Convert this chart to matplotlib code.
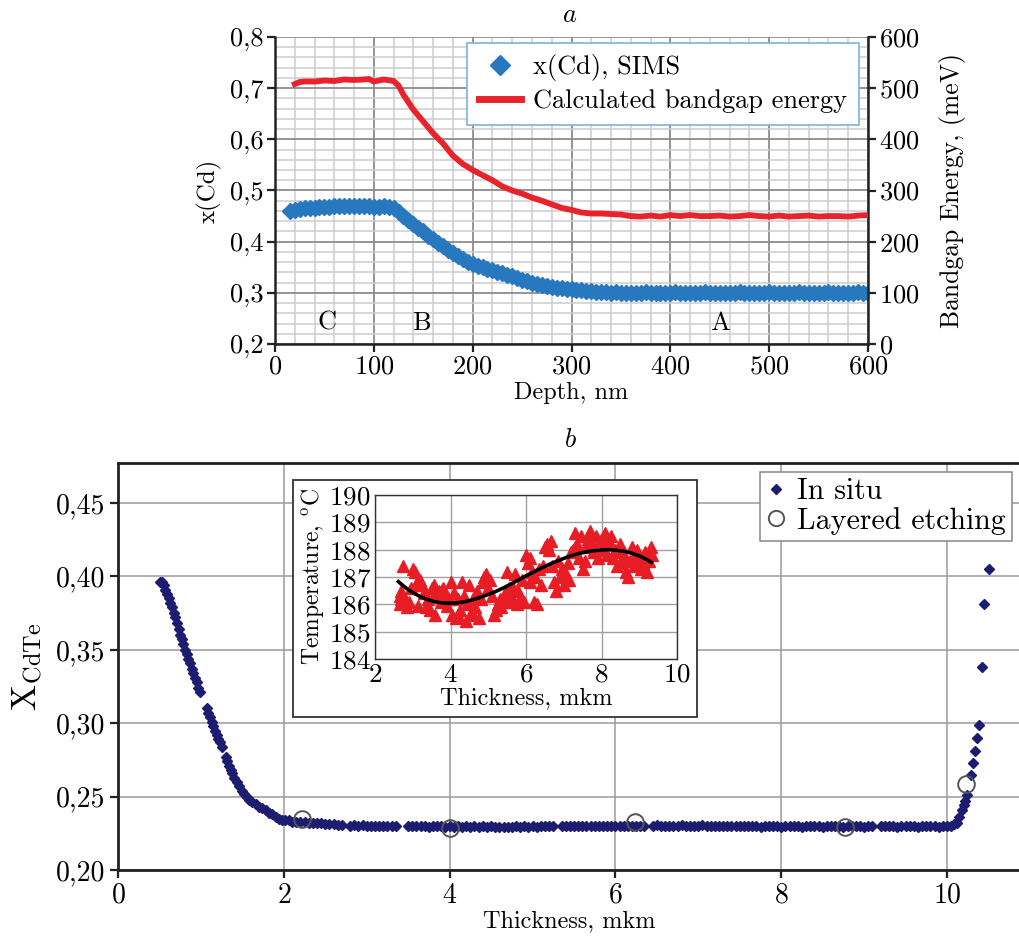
import matplotlib
matplotlib.use('Agg')
import matplotlib.pyplot as plt
from matplotlib.ticker import FuncFormatter, MultipleLocator
from matplotlib.lines import Line2D
from matplotlib.patches import Rectangle

plt.rcParams['font.family'] = 'serif'
plt.rcParams['font.serif'] = ['cmr10', 'DejaVu Serif']
plt.rcParams['mathtext.fontset'] = 'cm'
plt.rcParams['axes.unicode_minus'] = False
plt.rcParams['axes.formatter.use_mathtext'] = True

# ---------------- data: panel a ----------------
sims_xcd = [
    (15, 0.460), (20, 0.462), (25, 0.464), (30, 0.465), (35, 0.466), (40, 0.466), (45, 0.467),
    (50, 0.468), (55, 0.468), (60, 0.469), (65, 0.469), (70, 0.470), (75, 0.470), (80, 0.470),
    (85, 0.470), (90, 0.470), (95, 0.469), (100, 0.468), (105, 0.468), (110, 0.469), (115, 0.467),
    (120, 0.465), (125, 0.458), (130, 0.450), (135, 0.442), (140, 0.434), (145, 0.427), (150, 0.420),
    (155, 0.412), (160, 0.405), (165, 0.398), (170, 0.391), (175, 0.384), (180, 0.378), (185, 0.372),
    (190, 0.366), (195, 0.361), (200, 0.357), (205, 0.353), (210, 0.350), (215, 0.347), (220, 0.344),
    (225, 0.341), (230, 0.338), (235, 0.335), (240, 0.332), (245, 0.329), (250, 0.326), (255, 0.323),
    (260, 0.320), (265, 0.318), (270, 0.316), (275, 0.314), (280, 0.312), (285, 0.310), (290, 0.309),
    (295, 0.308), (300, 0.307), (305, 0.306), (310, 0.305), (315, 0.304), (320, 0.303), (325, 0.302),
    (330, 0.302), (335, 0.301), (340, 0.300), (345, 0.301), (350, 0.300), (355, 0.300), (360, 0.299),
    (365, 0.300), (370, 0.300), (375, 0.301), (380, 0.300), (385, 0.300), (390, 0.299), (395, 0.300),
    (400, 0.300), (405, 0.301), (410, 0.300), (415, 0.300), (420, 0.299), (425, 0.300), (430, 0.300),
    (435, 0.301), (440, 0.300), (445, 0.300), (450, 0.300), (455, 0.299), (460, 0.300), (465, 0.300),
    (470, 0.301), (475, 0.300), (480, 0.300), (485, 0.299), (490, 0.300), (495, 0.300), (500, 0.301),
    (505, 0.300), (510, 0.300), (515, 0.299), (520, 0.300), (525, 0.300), (530, 0.301), (535, 0.300),
    (540, 0.300), (545, 0.299), (550, 0.300), (555, 0.300), (560, 0.301), (565, 0.300), (570, 0.300),
    (575, 0.299), (580, 0.300), (585, 0.300), (590, 0.301), (595, 0.300), (600, 0.300),
]
bandgap_mev = [
    (20, 508), (25, 512), (30, 513), (40, 513), (50, 515), (60, 514), (70, 517), (80, 516),
    (90, 517), (95, 518), (100, 513), (110, 517), (120, 514), (125, 505), (130, 487), (140, 458),
    (150, 435), (160, 412), (170, 392), (180, 368), (190, 352), (200, 340), (210, 330), (220, 320),
    (230, 308), (240, 300), (250, 294), (260, 286), (270, 280), (280, 273), (290, 266), (300, 262),
    (310, 257), (320, 255), (330, 255), (340, 254), (350, 253), (360, 250), (370, 249), (380, 251),
    (390, 249), (400, 252), (410, 250), (420, 252), (430, 250), (440, 250), (450, 251), (460, 249),
    (470, 250), (480, 252), (490, 250), (500, 249), (510, 251), (520, 249), (530, 250), (540, 251),
    (550, 249), (560, 250), (570, 250), (580, 249), (590, 251), (600, 252),
]
zone_labels = ['C', 'B', 'A']
zone_depth = [53, 148, 450]

# ---------------- data: panel b ----------------
in_situ = [
    (0.51, 0.396), (0.53, 0.396), (0.55, 0.394), (0.57, 0.391), (0.59, 0.388), (0.61, 0.385),
    (0.63, 0.382), (0.65, 0.379), (0.67, 0.375), (0.69, 0.372), (0.71, 0.368), (0.73, 0.364),
    (0.75, 0.360), (0.77, 0.357), (0.79, 0.354), (0.81, 0.350), (0.83, 0.347), (0.85, 0.344),
    (0.87, 0.341), (0.89, 0.337), (0.91, 0.334), (0.93, 0.331), (0.95, 0.328), (0.97, 0.324),
    (0.99, 0.321), (1.07, 0.310), (1.09, 0.307), (1.11, 0.304), (1.13, 0.301), (1.15, 0.298),
    (1.17, 0.295), (1.19, 0.292), (1.21, 0.289), (1.23, 0.287), (1.25, 0.284), (1.30, 0.277),
    (1.32, 0.274), (1.34, 0.271), (1.36, 0.268), (1.38, 0.266), (1.40, 0.263), (1.43, 0.260),
    (1.46, 0.257), (1.49, 0.254), (1.52, 0.252), (1.55, 0.250), (1.58, 0.248), (1.62, 0.246),
    (1.66, 0.245), (1.70, 0.243), (1.74, 0.242), (1.78, 0.241), (1.82, 0.239), (1.86, 0.238),
    (1.90, 0.236), (1.94, 0.235), (1.98, 0.234), (2.02, 0.234), (2.06, 0.234), (2.10, 0.233),
    (2.15, 0.233), (2.20, 0.233), (2.25, 0.233), (2.30, 0.232), (2.35, 0.232), (2.40, 0.232),
    (2.45, 0.2318), (2.50, 0.2314), (2.55, 0.2312), (2.60, 0.2310), (2.65, 0.2308), (2.70, 0.2306),
    (2.80, 0.2303), (2.85, 0.2305), (2.90, 0.2301), (2.95, 0.2304), (3.00, 0.2300), (3.05, 0.2302),
    (3.10, 0.2299), (3.15, 0.2303), (3.20, 0.2300), (3.25, 0.2298), (3.30, 0.2301), (3.35, 0.2299),
    (3.50, 0.2300), (3.55, 0.2297), (3.60, 0.2301), (3.65, 0.2298), (3.70, 0.2300), (3.75, 0.2296),
    (3.80, 0.2299), (3.85, 0.2297), (3.90, 0.2300), (3.95, 0.2296), (4.00, 0.2298), (4.05, 0.2295),
    (4.10, 0.2298), (4.15, 0.2296), (4.20, 0.2299), (4.25, 0.2295), (4.30, 0.2297), (4.35, 0.2294),
    (4.40, 0.2297), (4.45, 0.2295), (4.50, 0.2298), (4.55, 0.2294), (4.60, 0.2296), (4.65, 0.2293),
    (4.70, 0.2296), (4.75, 0.2294), (4.80, 0.2297), (4.85, 0.2295), (4.90, 0.2298), (4.95, 0.2296),
    (5.00, 0.2299), (5.05, 0.2296), (5.10, 0.2298), (5.15, 0.2300), (5.20, 0.2297), (5.25, 0.2299),
    (5.35, 0.2297), (5.40, 0.2300), (5.45, 0.2298), (5.50, 0.2301), (5.55, 0.2298), (5.60, 0.2300),
    (5.65, 0.2297), (5.70, 0.2300), (5.75, 0.2298), (5.80, 0.2301), (5.85, 0.2299), (5.90, 0.2302),
    (5.95, 0.2299), (6.00, 0.2301), (6.05, 0.2303), (6.10, 0.2300), (6.15, 0.2302), (6.20, 0.2299),
    (6.25, 0.2302), (6.30, 0.2300), (6.35, 0.2303), (6.45, 0.2301), (6.50, 0.2304), (6.55, 0.2301),
    (6.60, 0.2303), (6.65, 0.2300), (6.70, 0.2303), (6.75, 0.2301), (6.80, 0.2304), (6.85, 0.2302),
    (6.90, 0.2300), (6.95, 0.2303), (7.00, 0.2301), (7.05, 0.2304), (7.10, 0.2302), (7.15, 0.2300),
    (7.20, 0.2303), (7.25, 0.2301), (7.30, 0.2299), (7.35, 0.2302), (7.40, 0.2300), (7.45, 0.2298),
    (7.50, 0.2301), (7.55, 0.2299), (7.60, 0.2297), (7.65, 0.2300), (7.70, 0.2298), (7.75, 0.2296),
    (7.80, 0.2299), (7.85, 0.2297), (7.90, 0.2300), (7.95, 0.2298), (8.00, 0.2296), (8.05, 0.2299),
    (8.10, 0.2297), (8.15, 0.2300), (8.20, 0.2298), (8.25, 0.2296), (8.30, 0.2299), (8.35, 0.2297),
    (8.40, 0.2300), (8.45, 0.2298), (8.50, 0.2296), (8.55, 0.2299), (8.60, 0.2297), (8.65, 0.2300),
    (8.70, 0.2298), (8.75, 0.2296), (8.80, 0.2299), (8.85, 0.2297), (8.90, 0.2300), (8.95, 0.2298),
    (9.00, 0.2296), (9.05, 0.2299), (9.10, 0.2297), (9.20, 0.2299), (9.25, 0.2297), (9.30, 0.2300),
    (9.35, 0.2298), (9.40, 0.2296), (9.45, 0.2299), (9.50, 0.2297), (9.55, 0.2300), (9.60, 0.2298),
    (9.65, 0.2296), (9.70, 0.2299), (9.75, 0.2297), (9.80, 0.2300), (9.85, 0.2298), (9.90, 0.2296),
    (9.95, 0.2299), (10.00, 0.2298), (10.05, 0.2301), (10.08, 0.231), (10.12, 0.232), (10.15, 0.236),
    (10.18, 0.241), (10.20, 0.244), (10.22, 0.247), (10.24, 0.251), (10.29, 0.265), (10.31, 0.273),
    (10.34, 0.281), (10.36, 0.290), (10.39, 0.299), (10.42, 0.338), (10.45, 0.381), (10.51, 0.405),
]
layered_etching = [(2.22, 0.2347), (4.00, 0.2285), (6.24, 0.2325), (8.77, 0.2292), (10.23, 0.2585)]

# ---------------- data: inset ----------------
inset_temp = [
    (2.65, 186.3), (2.65, 186.0), (2.70, 186.5), (2.70, 186.2), (2.75, 187.4), (2.80, 186.2),
    (2.85, 185.9), (2.90, 186.1), (2.95, 186.6), (3.00, 187.3), (3.05, 187.2), (3.10, 186.8),
    (3.10, 186.7), (3.15, 185.95), (3.20, 186.9), (3.25, 186.7), (3.30, 186.4), (3.35, 185.9),
    (3.40, 186.2), (3.45, 185.8), (3.50, 186.6), (3.55, 186.7), (3.60, 185.6), (3.60, 186.4),
    (3.65, 186.3), (3.70, 186.5), (3.75, 186.1), (3.80, 186.6), (3.80, 186.2), (3.85, 186.4),
    (3.90, 185.95), (3.95, 186.2), (4.00, 186.8), (4.05, 185.6), (4.10, 186.4), (4.15, 185.5),
    (4.20, 186.2), (4.20, 185.6), (4.25, 185.8), (4.30, 186.8), (4.35, 186.3), (4.40, 185.4),
    (4.45, 186.0), (4.50, 186.7), (4.55, 185.7), (4.60, 186.2), (4.60, 185.6), (4.65, 185.9),
    (4.70, 186.5), (4.75, 185.5), (4.80, 186.2), (4.85, 186.8), (4.90, 187.0), (4.95, 187.1),
    (5.00, 186.6), (5.05, 186.9), (5.10, 186.3), (5.15, 185.6), (5.20, 185.8), (5.25, 186.0),
    (5.30, 186.2), (5.35, 185.9), (5.40, 186.1), (5.45, 186.4), (5.50, 187.2), (5.55, 186.6),
    (5.60, 186.3), (5.60, 186.1), (5.65, 186.6), (5.70, 187.1), (5.75, 186.0), (5.80, 186.5),
    (5.85, 186.2), (5.90, 186.9), (5.95, 186.1), (6.00, 187.8), (6.05, 187.5), (6.10, 186.8),
    (6.10, 187.7), (6.15, 187.2), (6.20, 186.1), (6.25, 187.0), (6.30, 186.0), (6.35, 187.3),
    (6.40, 186.7), (6.45, 187.4), (6.50, 188.1), (6.55, 188.2), (6.60, 188.0), (6.65, 188.3),
    (6.70, 187.4), (6.75, 186.8), (6.80, 186.5), (6.85, 187.6), (6.90, 187.0), (6.95, 187.3),
    (7.00, 186.7), (7.05, 187.1), (7.10, 187.5), (7.15, 186.9), (7.20, 187.9), (7.25, 188.0),
    (7.30, 188.6), (7.30, 188.1), (7.35, 188.2), (7.40, 187.7), (7.45, 188.5), (7.50, 187.3),
    (7.55, 187.6), (7.60, 188.1), (7.65, 188.4), (7.70, 188.7), (7.75, 188.2), (7.80, 187.9),
    (7.80, 188.0), (7.85, 188.5), (7.90, 187.7), (7.95, 188.3), (8.00, 188.4), (8.05, 188.0),
    (8.10, 188.6), (8.10, 188.2), (8.15, 187.8), (8.20, 188.3), (8.25, 188.5), (8.30, 187.7),
    (8.35, 188.0), (8.40, 187.4), (8.45, 187.9), (8.50, 188.2), (8.55, 187.5), (8.60, 187.8),
    (8.60, 187.7), (8.65, 187.2), (8.70, 187.0), (8.75, 187.6), (8.80, 188.1), (8.85, 187.4),
    (8.90, 187.7), (8.95, 188.0), (9.00, 187.6), (9.05, 187.3), (9.10, 187.5), (9.15, 187.9),
    (9.20, 187.2), (9.20, 187.8), (9.25, 187.6), (9.30, 188.1), (9.35, 187.8),
]
inset_fit = [
    (2.62, 186.83), (2.8, 186.62), (3.0, 186.43), (3.2, 186.28), (3.4, 186.17), (3.6, 186.09),
    (3.8, 186.05), (4.0, 186.04), (4.2, 186.06), (4.4, 186.10), (4.6, 186.17), (4.8, 186.26),
    (5.0, 186.36), (5.2, 186.47), (5.4, 186.60), (5.6, 186.74), (5.8, 186.89), (6.0, 187.04),
    (6.2, 187.18), (6.4, 187.32), (6.6, 187.45), (6.8, 187.57), (7.0, 187.68), (7.2, 187.78),
    (7.4, 187.86), (7.6, 187.92), (7.8, 187.96), (8.0, 187.99), (8.2, 188.00), (8.4, 187.98),
    (8.6, 187.94), (8.8, 187.87), (9.0, 187.77), (9.2, 187.64), (9.32, 187.54),
]

BLUE = '#2878c0'
RED = '#e8232b'
NAVY = '#1c1c70'
TRI_RED = '#e81c24'
DARK = '#222222'


def comma_fmt(dec):
    return FuncFormatter(lambda v, p: f"{v:.{dec}f}".replace('.', ','))


def unzip(pairs):
    return [p[0] for p in pairs], [p[1] for p in pairs]


fig = plt.figure(figsize=(10.2, 9.38), dpi=100)

# ======================= panel a =======================
axA = fig.add_axes([275 / 1020, 1 - 344 / 938, (868 - 275) / 1020, (344 - 37) / 938])
axA.set_xlim(0, 600)
axA.set_ylim(0.2, 0.8)
axA.xaxis.set_major_locator(MultipleLocator(100))
axA.xaxis.set_minor_locator(MultipleLocator(20))
axA.yaxis.set_major_locator(MultipleLocator(0.1))
axA.yaxis.set_minor_locator(MultipleLocator(0.02))
axA.yaxis.set_major_formatter(comma_fmt(1))
axA.grid(True, which='major', color='#8c8c8c', lw=1.3)
axA.grid(True, which='minor', color='#cdcdcd', lw=1.1)
axA.set_axisbelow(True)
axA.tick_params(which='major', direction='out', length=6, width=1.6, color=DARK, labelsize=19, pad=2)
axA.tick_params(which='minor', length=0)
for s in ['top', 'right']:
    axA.spines[s].set_visible(False)
for s in ['left', 'bottom']:
    axA.spines[s].set_color(DARK)
    axA.spines[s].set_linewidth(1.8)

dx, dy = unzip(sims_xcd)
axA.plot(dx, dy, ls='', marker='D', ms=8.5, color=BLUE, mec=BLUE, zorder=3)
axA.set_ylabel('x(Cd)', fontsize=18, labelpad=6)
axA.set_xlabel('Depth, nm', fontsize=17.5, labelpad=2)
for lab, d in zip(zone_labels, zone_depth):
    axA.text(d, 0.241, lab, fontsize=19, ha='center', va='center', zorder=4)

ax2 = axA.twinx()
ax2.set_ylim(0, 600)
ax2.yaxis.set_major_locator(MultipleLocator(100))
ex, ey = unzip(bandgap_mev)
ax2.plot(ex, ey, color=RED, lw=4.2, zorder=3)
for s in ['top', 'left', 'bottom']:
    ax2.spines[s].set_visible(False)
ax2.spines['right'].set_color(DARK)
ax2.spines['right'].set_linewidth(1.8)
ax2.tick_params(which='major', direction='out', length=6, width=1.6, color=DARK, labelsize=19, pad=2)
ax2.set_ylabel('Bandgap Energy, (meV)', fontsize=18.5, labelpad=14)

hA = [Line2D([], [], ls='', marker='D', ms=10, color=BLUE),
      Line2D([], [], color=RED, lw=5)]
legA = ax2.legend(hA, ['x(Cd), SIMS', 'Calculated bandgap energy'], loc='upper right',
                  bbox_to_anchor=(0.984, 0.982), fontsize=19, frameon=True, fancybox=False,
                  borderpad=0.45, labelspacing=0.3, handlelength=1.6, handletextpad=0.45,
                  borderaxespad=0.0)
legA.get_frame().set_edgecolor('#7db3dc')
legA.get_frame().set_linewidth(1.2)
legA.get_frame().set_alpha(1)

fig.text(570 / 1020, 1 - 15 / 938, '$a$', fontsize=19, ha='center', va='center')
fig.text(570 / 1020, 1 - 440 / 938, '$b$', fontsize=19, ha='center', va='center')

# ======================= panel b =======================
axB = fig.add_axes([118 / 1020, 1 - 870 / 938, (1020 - 118) / 1020, (870 - 463) / 938])
axB.set_xlim(0, 10.88)
axB.set_ylim(0.2, 0.4772)
axB.xaxis.set_major_locator(MultipleLocator(2))
axB.set_yticks([0.20, 0.25, 0.30, 0.35, 0.40, 0.45])
axB.yaxis.set_major_formatter(comma_fmt(2))
axB.grid(True, color='#9a9a9a', lw=1.1)
axB.set_axisbelow(True)
axB.tick_params(direction='out', length=6, width=1.6, color=DARK, labelsize=20, pad=3)
axB.spines['right'].set_visible(False)
for s in ['left', 'bottom', 'top']:
    axB.spines[s].set_color(DARK)
    axB.spines[s].set_linewidth(2.0)

ix, iy = unzip(in_situ)
axB.plot(ix, iy, ls='', marker='D', ms=4.6, color=NAVY, mec=NAVY, zorder=3)
lx, ly = unzip(layered_etching)
axB.plot(lx, ly, ls='', marker='o', ms=12, mfc='none', mec='#555555', mew=1.4, zorder=4)
axB.set_xlabel('Thickness, mkm', fontsize=17.5, labelpad=1)
axB.set_ylabel(r'X$_{\mathrm{CdTe}}$', fontsize=25, labelpad=8)

hB = [Line2D([], [], ls='', marker='D', ms=5.5, color=NAVY),
      Line2D([], [], ls='', marker='o', ms=11, mfc='none', mec='#555555', mew=1.4)]
legB = axB.legend(hB, ['In situ', 'Layered etching'], loc='upper right',
                  bbox_to_anchor=(1012 / 1020, 1 - 472 / 938), bbox_transform=fig.transFigure,
                  fontsize=21.5, frameon=True, fancybox=False, borderpad=0.2,
                  labelspacing=0.05, handlelength=0.7, handletextpad=0.35, borderaxespad=0.0)
legB.get_frame().set_edgecolor('#888888')
legB.get_frame().set_linewidth(1.1)
legB.get_frame().set_alpha(1)

# inset frame
frame = Rectangle((293 / 1020, 1 - 717 / 938), (697 - 293) / 1020, (717 - 480) / 938,
                  transform=fig.transFigure, facecolor='white', edgecolor='#333333',
                  lw=1.3, zorder=1)
fig.add_artist(frame)

axI = fig.add_axes([375 / 1020, 1 - 659 / 938, (677 - 375) / 1020, (659 - 495) / 938])
axI.set_zorder(2)
axI.set_xlim(2, 10)
axI.set_ylim(184, 190)
axI.xaxis.set_major_locator(MultipleLocator(2))
axI.yaxis.set_major_locator(MultipleLocator(1))
axI.grid(True, color='#a0a0a0', lw=1.0)
axI.set_axisbelow(True)
axI.tick_params(length=0, labelsize=19.5, pad=3)
for s in axI.spines.values():
    s.set_color('#333333')
    s.set_linewidth(1.0)
tx, ty = unzip(inset_temp)
axI.plot(tx, ty, ls='', marker='^', ms=8, color=TRI_RED, mec=TRI_RED, zorder=3)
fx, fy = unzip(inset_fit)
axI.plot(fx, fy, color='black', lw=2.6, zorder=4)
axI.set_xlabel('Thickness, mkm', fontsize=17.5, labelpad=0)
axI.set_ylabel(r'Temperature, $^{\mathrm{o}}$C', fontsize=17, labelpad=2)

fig.savefig('out.png', dpi=100)
